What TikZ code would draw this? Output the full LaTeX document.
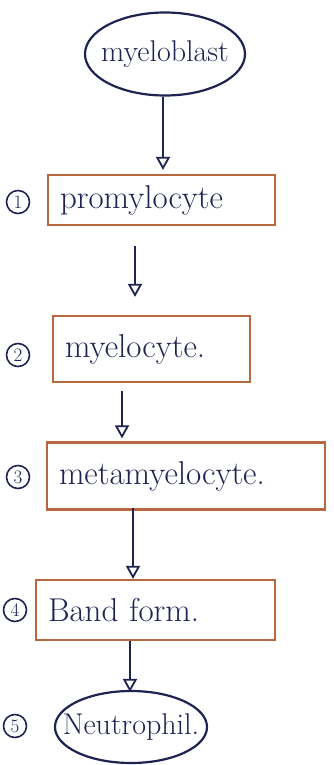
\documentclass[tikz,border=0pt]{standalone}
\usetikzlibrary{arrows.meta,shapes.geometric}
\definecolor{ink}{HTML}{1E2352}
\definecolor{boxc}{HTML}{B8683E}
\begin{document}
\begin{tikzpicture}[x=1pt,y=-1pt,
  cell/.style={draw=boxc, line width=2.2pt, inner xsep=12pt, inner ysep=0pt, align=left, text=ink,
    font=\fontsize{33}{36}\selectfont},
  oval/.style={ellipse, draw=ink, line width=2.2pt, inner sep=0pt},
  ovaltext/.style={text=ink, font=\fontsize{30}{32}\selectfont},
  num/.style={circle, draw=ink, line width=1.6pt, minimum size=23pt, inner sep=0pt, text=ink,
    font=\fontsize{19}{19}\selectfont},
  flow/.style={draw=ink, line width=2.2pt, -{Triangle[open, length=13pt, width=14pt, line width=1.8pt]}}]
\fill[white] (0,0) rectangle (334,765);
\useasboundingbox (0,0) rectangle (334,765);

\node[oval, minimum width=160pt, minimum height=83pt,
  label={[ovaltext]center:myeloblast}] (e1) at (165,54) {};
\node[cell, text width=203pt, minimum height=50pt] (b1) at (161.5,200) {promylocyte};
\node[cell, text width=173pt, minimum height=66pt] (b2) at (151.5,349) {myelocyte.};
\node[cell, text width=254pt, minimum height=67pt] (b3) at (186,476) {metamyelocyte.};
\node[cell, text width=215pt, minimum height=60pt] (b4) at (155.5,610) {Band form.};
\node[oval, minimum width=152pt, minimum height=72pt,
  label={[ovaltext]center:Neutrophil.}] (e5) at (131,727) {};

\node[num] (n1) at (18,202) {1};
\node[num] (n2) at (18,355) {2};
\node[num] (n3) at (18,477) {3};
\node[num] (n4) at (15,610) {4};
\node[num] (n5) at (15,726) {5};

\draw[flow] ([shift={(-2,0)}]e1.south) -- ([shift={(1.5,-4)}]b1.north);
\draw[flow] ([shift={(-26.5,20)}]b1.south) -- ([shift={(-16.5,-18)}]b2.north);
\draw[flow] ([shift={(-29.5,8)}]b2.south) -- ([shift={(-64,-3)}]b3.north);
\draw[flow] ([shift={(-53,-3)}]b3.south) -- ([shift={(-22.5,0)}]b4.north);
\draw[flow] ([shift={(-25.5,0)}]b4.south) -- ([shift={(-1,2)}]e5.north);
\end{tikzpicture}
\end{document}
